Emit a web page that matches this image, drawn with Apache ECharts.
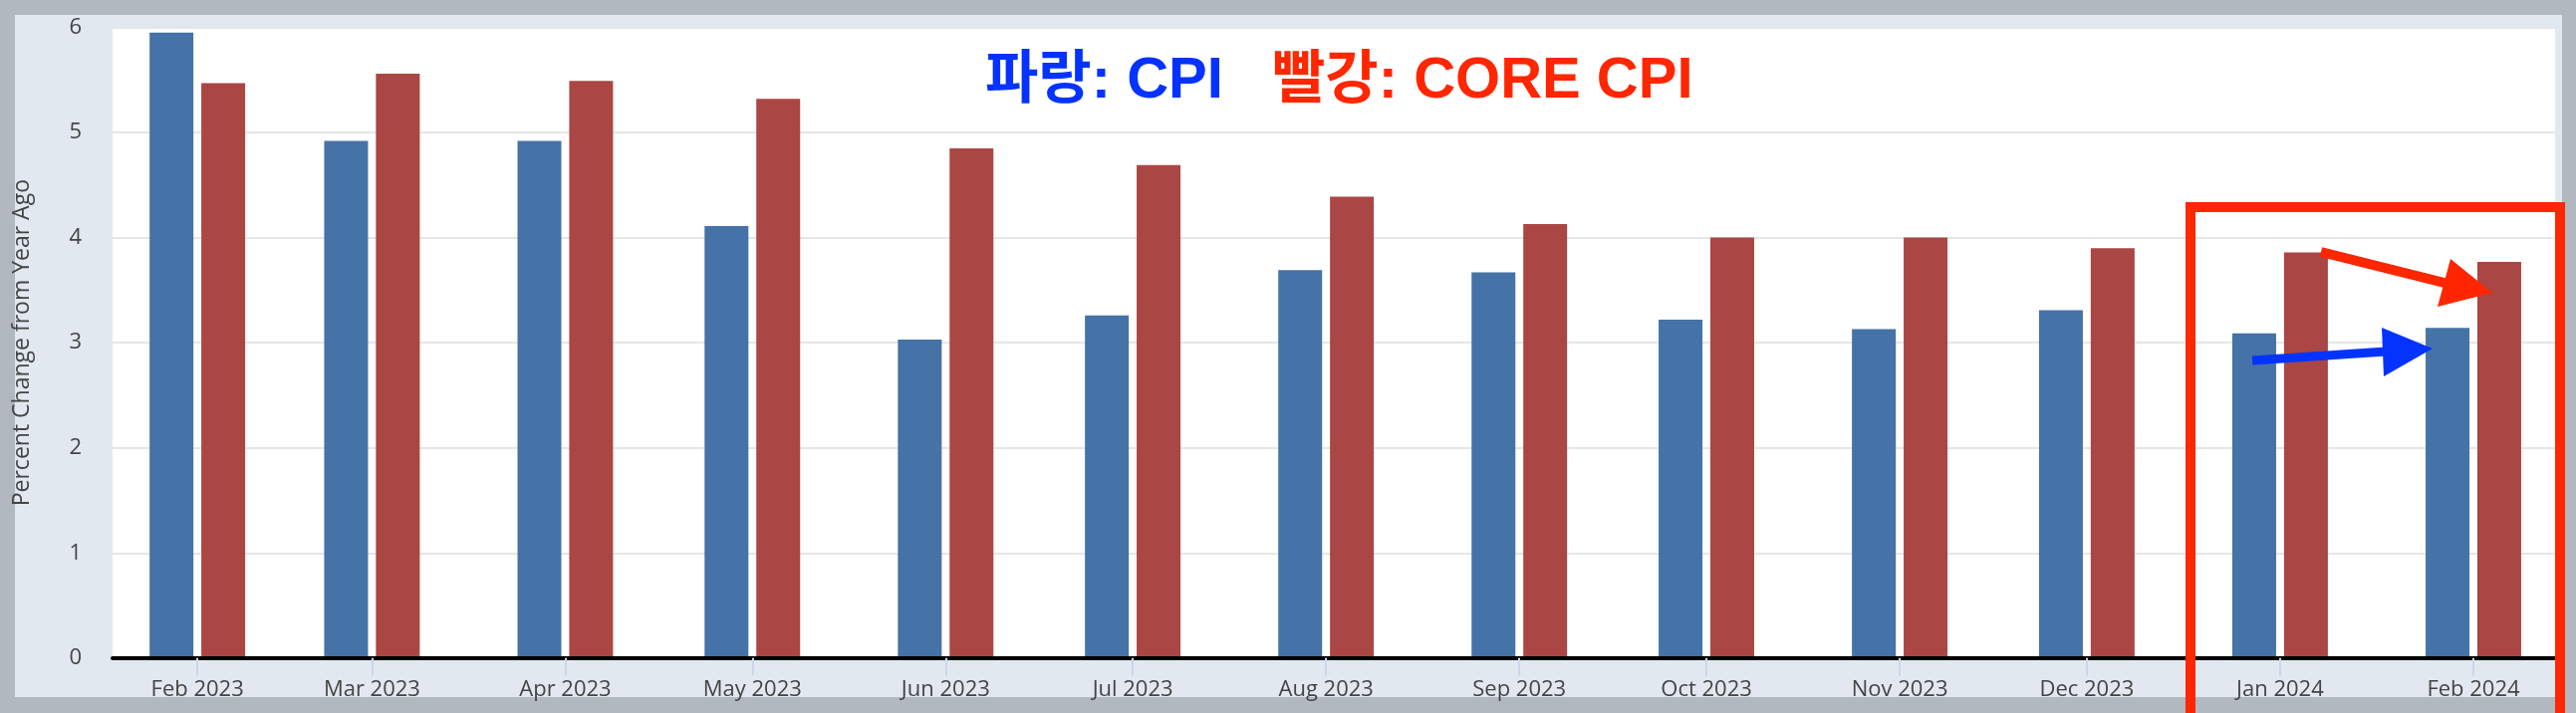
<!DOCTYPE html>
<html>
<head>
<meta charset="utf-8">
<title>CPI vs Core CPI</title>
<script src="https://cdn.jsdelivr.net/npm/echarts@6/dist/echarts.min.js"></script>
<style>
  * { margin: 0; padding: 0; box-sizing: border-box; }
  body { width: 2586px; height: 716px; background: #b1b8c0; overflow: hidden; position: relative; }
  #panel { position: absolute; left: 15px; top: 15px; width: 2557px; height: 685px; background: #e1e8f0; }
  #chart { position: absolute; left: 0; top: 0; width: 2586px; height: 716px; }
</style>
</head>
<body>
<div id="panel"></div>
<div id="chart"></div>
<script>
// 월 (데이터 날짜는 매월 1일)
const months = ['2023-02', '2023-03', '2023-04', '2023-05', '2023-06', '2023-07', '2023-08',
  '2023-09', '2023-10', '2023-11', '2023-12', '2024-01', '2024-02'];
const monthLabels = ['Feb 2023', 'Mar 2023', 'Apr 2023', 'May 2023', 'Jun 2023', 'Jul 2023', 'Aug 2023',
  'Sep 2023', 'Oct 2023', 'Nov 2023', 'Dec 2023', 'Jan 2024', 'Feb 2024'];

// 전년 대비 변화율 (%)
const cpi = [5.95, 4.92, 4.92, 4.11, 3.03, 3.26, 3.69, 3.67, 3.22, 3.13, 3.31, 3.09, 3.14];
const coreCpi = [5.47, 5.56, 5.49, 5.32, 4.85, 4.69, 4.39, 4.13, 4.00, 4.00, 3.90, 3.86, 3.77];

const yTicks = [0, 1, 2, 3, 4, 5, 6];

const BLUE = '#0433FF';
const RED = '#FF2600';
const NOTE_FONT = 'bold 58px "Liberation Sans", "Noto Sans CJK KR", sans-serif';

// 날짜 축: 하루 단위 숫자로 변환 (월 길이 차이 반영)
const DAY = 86400000;
function toDay(ym) {
  const [y, m] = ym.split('-').map(Number);
  return Math.round(Date.UTC(y, m - 1, 1) / DAY);
}

const days = months.map(toDay);

const chart = echarts.init(document.getElementById('chart'), null, { renderer: 'canvas' });

chart.setOption({
  animation: false,
  backgroundColor: 'transparent',
  textStyle: { fontFamily: '"Open Sans", sans-serif' },
  grid: {
    left: 113, right: 21, top: 27.5, bottom: 55.2,
    show: true, backgroundColor: '#ffffff', borderWidth: 0
  },
  xAxis: {
    type: 'value',
    z: 3,
    min: days[0] - 13.6,
    max: days[days.length - 1] + 13.1,
    axisLine: { show: true, onZero: false, lineStyle: { color: '#000000', width: 4 } },
    axisTick: {
      show: true, length: 18, customValues: days,
      lineStyle: { color: '#ccd6eb', width: 2 }
    },
    axisLabel: {
      customValues: days,
      margin: 21,
      fontSize: 22,
      color: '#444444',
      formatter: function (v) {
        const i = days.indexOf(v);
        return i >= 0 ? monthLabels[i] : '';
      }
    },
    splitLine: { show: false }
  },
  yAxis: {
    type: 'value',
    min: yTicks[0],
    max: yTicks[yTicks.length - 1],
    interval: 1,
    name: 'Percent Change from Year Ago',
    nameLocation: 'middle',
    nameGap: 79,
    nameTextStyle: { fontSize: 23, color: '#444444' },
    axisLine: { show: false },
    axisTick: { show: false },
    axisLabel: {
      margin: 31,
      fontSize: 22,
      color: '#444444',
      padding: [0, 0, 25, 0]
    },
    splitLine: { show: true, lineStyle: { color: '#e6e6e6', width: 2 } }
  },
  series: [
    {
      name: 'CPI',
      type: 'bar',
      barWidth: 44,
      barGap: '18%',
      itemStyle: { color: '#4572A7' },
      data: days.map((d, i) => [d, cpi[i]])
    },
    {
      name: 'Core CPI',
      type: 'bar',
      barWidth: 44,
      barGap: '18%',
      itemStyle: { color: '#AA4643' },
      data: days.map((d, i) => [d, coreCpi[i]])
    }
  ],
  graphic: [
    {
      type: 'text', left: 989, top: 53, z: 100,
      style: { text: '파랑: CPI', fill: BLUE, font: NOTE_FONT }
    },
    {
      type: 'text', left: 1277, top: 53, z: 100,
      style: { text: '빨강: CORE CPI', fill: RED, font: NOTE_FONT }
    },
    // 강조 박스
    {
      type: 'rect', z: 100,
      shape: { x: 2199, y: 208, width: 371, height: 600 },
      style: { fill: 'none', stroke: RED, lineWidth: 10 }
    },
    // 빨간 화살표
    {
      type: 'line', z: 100,
      shape: { x1: 2330, y1: 253, x2: 2458, y2: 285 },
      style: { stroke: RED, lineWidth: 10 }
    },
    {
      type: 'polygon', z: 101,
      shape: { points: [[2460, 260], [2502, 294], [2447, 308]] },
      style: { fill: RED }
    },
    // 파란 화살표
    {
      type: 'line', z: 100,
      shape: { x1: 2261, y1: 362, x2: 2395, y2: 353 },
      style: { stroke: BLUE, lineWidth: 9 }
    },
    {
      type: 'polygon', z: 101,
      shape: { points: [[2391, 329], [2442, 350], [2393, 378]] },
      style: { fill: BLUE }
    }
  ]
});
</script>
</body>
</html>
